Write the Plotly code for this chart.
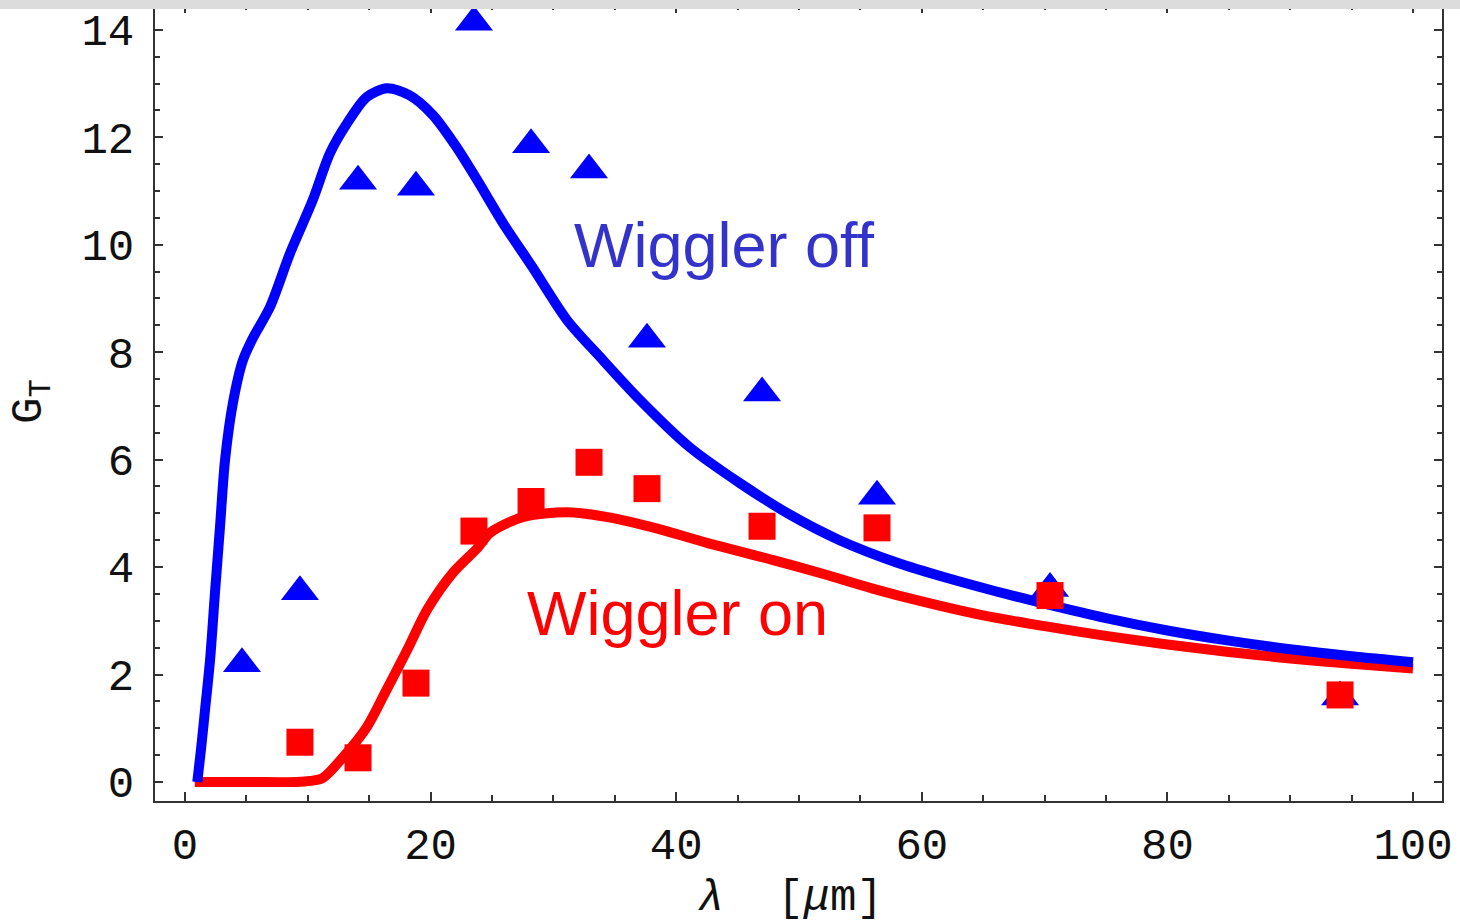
import plotly.graph_objects as go

# ---- data ----
lam_off = [4.64, 9.36, 14.09, 18.81, 23.53, 28.18, 32.9, 37.62, 46.99, 56.35, 70.44, 94.06]
gt_off = [2.20, 3.54, 11.18, 11.07, 14.14, 11.86, 11.39, 8.24, 7.24, 5.32, 3.60, 1.58]

lam_on = [9.36, 14.09, 18.81, 23.53, 28.18, 32.9, 37.62, 46.99, 56.35, 70.44, 94.06]
gt_on = [0.74, 0.45, 1.84, 4.67, 5.22, 5.95, 5.46, 4.76, 4.73, 3.47, 1.62]

curve_off_x = [1.0, 1.3, 1.63, 2.04, 2.44, 2.85, 3.26, 3.9, 4.72, 5.5, 6.92, 8.55, 10.4, 11.8,
               13.2, 14.8, 16.45, 18.3, 20.2, 22.1, 23.8, 25.9, 28.3, 31.1, 33.8, 37.05, 41.1,
               45.2, 49.3, 53.3, 58, 62, 66, 70, 75, 80, 85, 90, 95, 100]
curve_off_y = [0.0, 0.6, 1.34, 2.27, 3.52, 4.75, 5.99, 7.05, 7.85, 8.25, 8.84, 9.84, 10.83, 11.7,
               12.26, 12.75, 12.91, 12.78, 12.41, 11.82, 11.2, 10.4, 9.58, 8.6, 7.91, 7.11, 6.23,
               5.56, 4.97, 4.5, 4.08, 3.8, 3.55, 3.32, 3.05, 2.82, 2.63, 2.47, 2.34, 2.23]

curve_on_x = [0.8, 5, 9.1, 10.2, 11.2, 12.9, 14.8, 16.4, 18.1, 19.7, 21.8, 23.8, 24.8, 27.5,
              31.1, 34.4, 38.4, 42.5, 47.9, 52, 56, 60, 65, 70, 75, 80, 85, 90, 95, 100]
curve_on_y = [0.0, 0.0, 0.0, 0.02, 0.07, 0.47, 1.02, 1.71, 2.46, 3.2, 3.89, 4.35, 4.63, 4.93,
              5.02, 4.93, 4.72, 4.45, 4.13, 3.87, 3.6, 3.36, 3.1, 2.9, 2.72, 2.56, 2.42, 2.3, 2.2, 2.11]

x_ticks = [0, 20, 40, 60, 80, 100]
y_ticks = [0, 2, 4, 6, 8, 10, 12, 14]

BLUE = "#0000ff"
RED = "#ff0000"

fig = go.Figure()
fig.add_trace(go.Scatter(x=curve_on_x, y=curve_on_y, mode="lines",
                         line=dict(color=RED, width=10, shape="spline", smoothing=0.8),
                         name="Wiggler on (theory)"))
fig.add_trace(go.Scatter(x=curve_off_x, y=curve_off_y, mode="lines",
                         line=dict(color=BLUE, width=10, shape="spline", smoothing=0.8),
                         name="Wiggler off (theory)"))
fig.add_trace(go.Scatter(x=lam_off, y=gt_off, mode="markers",
                         marker=dict(symbol="triangle-up", size=33, color=BLUE, line=dict(width=0)),
                         name="Wiggler off"))
fig.add_trace(go.Scatter(x=lam_on, y=gt_on, mode="markers",
                         marker=dict(symbol="square", size=27, color=RED, line=dict(width=0)),
                         name="Wiggler on"))

W, H = 1460, 923
L, R, T, B = 155, 18, 4, 122
pw = W - L - R
ph = H - T - B

axis_common = dict(
    showline=True, linecolor="#333333", linewidth=2, mirror="allticks",
    ticks="inside", tickcolor="#333333", tickwidth=1.5,
    showgrid=False, zeroline=False, automargin=False,
    tickfont=dict(family="Liberation Mono", size=44, color="#111111"),
)

fig.update_xaxes(range=[-2.443, 102.36], tickvals=x_ticks, ticktext=[str(v) for v in x_ticks],
                 ticklen=9, ticklabelstandoff=3,
                 minor=dict(ticks="inside", dtick=5, tick0=0, ticklen=6, tickcolor="#333333", tickwidth=1.5),
                 **axis_common)
fig.update_yaxes(range=[-0.354, 14.48], tickvals=y_ticks, ticktext=[str(v) for v in y_ticks],
                 ticklen=8, ticklabelstandoff=10,
                 minor=dict(ticks="inside", dtick=0.5, tick0=0, ticklen=5, tickcolor="#333333", tickwidth=1.5),
                 **axis_common)

annotations = [
    dict(x=31.5, y=9.99, xref="x", yref="y", text="Wiggler off", showarrow=False,
         xanchor="left", yanchor="middle",
         font=dict(family="Liberation Sans", size=63, color="#3333cc")),
    dict(x=27.7, y=3.14, xref="x", yref="y", text="Wiggler on", showarrow=False,
         xanchor="left", yanchor="middle",
         font=dict(family="Liberation Sans", size=63, color=RED)),
    dict(x=(790 - L) / pw, y=(ph + T - 898) / ph, xref="paper", yref="paper",
         text="<i>λ</i>  [<i>μ</i>m]", showarrow=False, xanchor="center", yanchor="middle",
         font=dict(family="Liberation Mono", size=44, color="#111111")),
    dict(x=(31 - L) / pw, y=(ph + T - 402) / ph, xref="paper", yref="paper",
         text="G<sub>T</sub>", textangle=-90, showarrow=False, xanchor="center", yanchor="middle",
         font=dict(family="Liberation Mono", size=44, color="#111111")),
]

shapes = [
    dict(type="rect", xref="paper", yref="paper", x0=-L / pw - 0.01, x1=1 + R / pw + 0.01,
         y0=1 - 5 / ph, y1=1 + T / ph + 0.01, fillcolor="#dcdcdc", line=dict(width=0), layer="above"),
]

fig.update_layout(
    width=W, height=H,
    margin=dict(l=L, r=R, t=T, b=B, pad=0),
    paper_bgcolor="white", plot_bgcolor="white",
    showlegend=False,
    annotations=annotations,
    shapes=shapes,
)

fig.write_html("out.html")
